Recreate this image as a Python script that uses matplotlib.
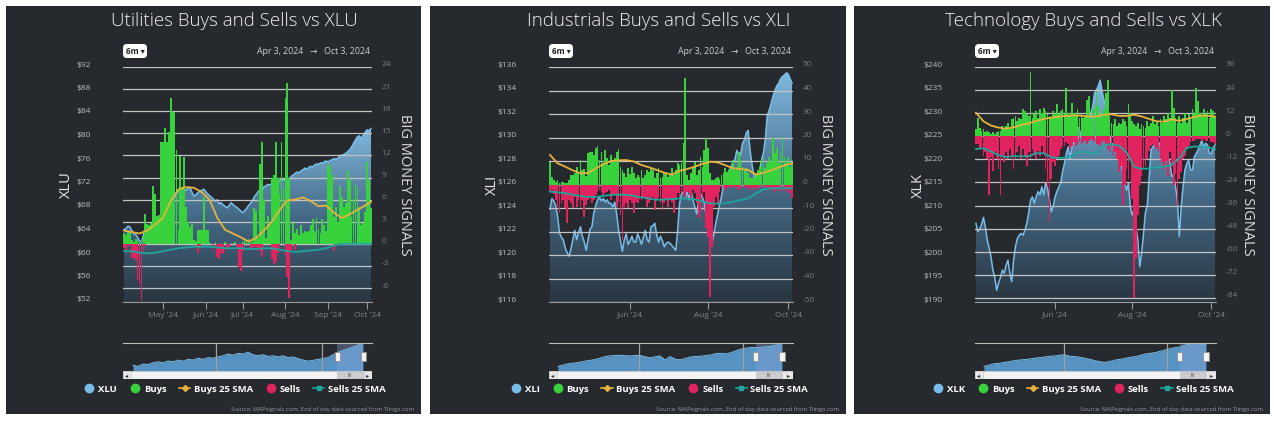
import numpy as np
import pandas as pd
import matplotlib
matplotlib.use("Agg")
import matplotlib.pyplot as plt
from matplotlib.patches import Rectangle, FancyBboxPatch, Polygon
from matplotlib.lines import Line2D
from matplotlib.colors import LinearSegmentedColormap
from matplotlib.transforms import ScaledTranslation, blended_transform_factory

plt.rcParams["font.family"] = ["Open Sans", "DejaVu Sans"]

# trading days shown in the 6m window
holidays = ["2024-05-27", "2024-06-19", "2024-07-04", "2024-09-02"]
dates = pd.bdate_range("2024-04-03", "2024-10-03")
dates = dates[~dates.isin(pd.to_datetime(holidays))]

# ---------------- Utilities / XLU ----------------
xlu_price = [
    64.3, 64.5, 64.9, 64.8, 64.2, 63.6, 63.5, 63.0, 62.4, 62.2,
    63.4, 64.7, 64.9, 65.0, 64.8, 65.3, 65.5, 65.9, 65.7, 66.0,
    66.3, 66.8, 67.2, 67.8, 68.6, 69.2, 69.7, 70.4, 70.9, 71.3,
    71.5, 71.2, 71.0, 71.4, 71.5, 70.6, 70.0, 70.3, 70.6, 70.9,
    71.0, 71.2, 70.8, 70.4, 70.1, 69.8, 69.5, 69.2, 69.4, 68.7,
    68.9, 68.5, 68.3, 68.0, 68.4, 68.9, 68.6, 68.3, 68.1, 67.8,
    67.5, 67.2, 67.5, 67.9, 68.4, 68.8, 69.2, 69.9, 70.3, 70.8,
    71.1, 71.0, 71.6, 71.8, 72.0, 71.9, 72.2, 72.4, 72.5, 72.3,
    72.6, 72.9, 72.7, 73.1, 73.3, 72.8, 73.4, 73.6, 73.9, 74.1,
    74.0, 74.3, 74.5, 74.8, 74.6, 74.9, 75.1, 75.0, 75.3, 75.5,
    75.4, 75.7, 75.6, 75.9, 76.0, 75.8, 76.1, 76.2, 76.4, 76.3,
    76.5, 76.9, 77.0, 77.1, 77.3, 77.6, 77.9, 78.4, 79.0, 79.6,
    80.1, 80.3, 79.8, 80.4, 80.9, 81.3, 81.2, 81.5,
]
xlu_buys = [
    1.5, 1.2, 1.8, 1.8, 0.5, 0.3, 0.6, 0.5, 0.3, 0.5,
    1.0, 4.0, 2.7, 2.5, 2.8, 7.8, 6.8, 3.8, 3.9, 13.8,
    13.8, 15.7, 13.8, 15.2, 19.8, 17.9, 17.9, 12.7, 1.9, 11.9,
    7.7, 11.8, 5.0, 2.9, 2.3, 2.7, 0.5, 0.4, 1.9, 1.9,
    1.9, 6.4, 1.9, 1.9, 0.3, 0.0, 0.0, 0.2, 0.0, 0.0,
    0.0, 0.0, 0.2, 0.0, 0.0, 0.0, 0.0, 0.2, 0.0, 0.0,
    0.0, 0.3, 0.5, 0.4, 0.6, 0.5, 0.3, 4.8, 4.5, 0.8,
    10.9, 13.8, 6.0, 0.8, 3.8, 2.6, 9.0, 9.3, 13.8, 8.9,
    6.7, 13.8, 7.5, 19.8, 21.8, 9.0, 0.5, 2.8, 1.4, 2.0,
    1.2, 2.5, 1.5, 1.8, 1.6, 1.8, 2.5, 3.4, 1.8, 3.6,
    2.0, 1.5, 3.4, 2.5, 1.8, 10.9, 10.4, 9.3, 3.6, 5.0,
    2.9, 7.9, 6.3, 5.0, 5.6, 10.0, 8.6, 3.6, 6.1, 8.1,
    7.7, 5.0, 2.5, 2.8, 4.3, 11.1, 8.6, 4.8,
]
xlu_sells = [
    -0.6, -0.8, -0.3, -0.2, -1.9, -1.9, -2.2, -4.9, -5.5, -7.8,
    -1.1, -0.3, 0, 0, 0, 0, 0, 0, 0, 0,
    0, 0, 0, 0, 0, 0, 0, 0, 0, 0,
    0, 0, 0, 0, 0, 0, 0, 0, -1.2, -0.4,
    0, 0, 0, 0, 0, 0, -0.9, 0, -1.8, -2.0,
    -1.2, -1.4, 0, -0.9, -0.5, 0, 0, 0, -0.6, -3.2,
    -3.7, -1.0, 0, 0, 0, -0.8, -0.9, -0.5, -0.4, -0.6,
    -1.0, -1.8, 0, 0, 0, 0, -2.0, -2.7, -2.5, -1.2,
    -0.3, 0, 0, -1.5, -4.5, -7.3, -1.0, 0, -0.8, 0,
    0, 0, 0, 0, 0, 0, 0, 0, 0, 0,
    0, 0, 0, 0, 0, 0, 0, 0, -1.0, 0,
    0, 0, 0, 0, 0, 0, 0, 0, 0, 0,
    0, 0, 0, 0, 0, 0, 0, 0,
]
# 25 SMA lines, read every 4th session plus the last one
xlu_buys_sma = [1.8, 1.6, 1.4, 1.8, 2.6, 3.5, 5.8, 7.4, 7.7, 7.6, 7.0, 6.0, 3.5, 1.9, 1.4, 0.9, 0.3,
                0.8, 1.8, 3.0, 4.6, 5.9, 6.0, 6.3, 5.8, 5.1, 5.2, 4.2, 3.5, 4.0, 4.6, 5.2, 5.7]
xlu_sells_sma = [-1.0, -1.0, -1.2, -1.3, -1.2, -1.0, -0.8, -0.6, -0.5, -0.4, -0.4, -0.4, -0.5, -0.6, -0.6,
                 -0.6, -0.7, -0.7, -0.6, -0.6, -0.8, -1.0, -1.1, -1.0, -0.9, -0.8, -0.6, -0.2, 0.0, 0.0,
                 0.0, 0.0, 0.0]
xlu_nav = [60.2, 59.1, 61.5, 60.9, 62.6, 63.6, 62.6, 64.3, 63.6, 65.3, 64.3, 66.0, 65.3, 67.1, 66.0, 67.7,
           67.1, 68.4, 69.5, 71.2, 70.1, 71.9, 71.2, 72.9, 70.5, 69.5, 70.5, 68.8, 69.5, 68.4, 69.5, 67.7,
           68.4, 66.7, 65.3, 64.3, 65.0, 66.0, 66.7, 67.7, 70.5, 72.9, 74.6, 76.3, 78.1, 79.8, 81.5]

# ---------------- Industrials / XLI ----------------
xli_price = [
    123.9, 124.8, 124.6, 124.2, 123.3, 121.9, 121.5, 121.3, 120.6, 120.2,
    119.9, 120.5, 121.3, 122.1, 121.3, 121.9, 122.4, 121.6, 121.1, 120.4,
    121.3, 122.2, 122.4, 123.6, 124.2, 124.7, 124.9, 124.6, 124.8, 124.5,
    124.7, 124.4, 124.4, 124.1, 124.5, 123.5, 122.1, 121.2, 120.3, 121.3,
    121.8, 120.9, 121.2, 121.6, 121.1, 121.1, 121.8, 121.4, 120.9, 121.5,
    122.1, 121.3, 121.1, 122.4, 122.5, 122.7, 121.7, 121.1, 121.6, 121.2,
    120.7, 121.0, 121.1, 121.0, 120.8, 120.6, 120.4, 122.1, 124.4, 125.2,
    125.4, 124.9, 125.4, 124.7, 125.5, 124.7, 124.1, 123.5, 124.7, 125.2,
    124.9, 124.4, 123.3, 122.1, 121.6, 121.0, 121.8, 122.7, 123.5, 124.3,
    125.0, 125.9, 126.4, 126.8, 127.2, 127.5, 127.9, 128.1, 128.9, 128.6,
    128.5, 129.5, 129.8, 130.4, 130.6, 128.9, 127.7, 126.8, 125.8, 126.4,
    127.2, 128.1, 128.7, 129.9, 131.9, 132.3, 132.9, 133.5, 134.0, 134.4,
    134.6, 135.0, 135.2, 135.3, 135.5, 135.4, 135.0, 134.6,
]
xli_buys = [
    9.7, 3.3, 1.9, 1.2, 1.9, 0.5, 1.2, 1.0, 0.5, 0.6,
    1.9, 4.1, 4.1, 4.8, 7.6, 5.5, 10.4, 6.2, 6.5, 3.5,
    13.3, 14.0, 14.0, 12.6, 15.4, 16.4, 10.4, 14.0, 9.0, 14.7,
    11.2, 8.3, 12.6, 9.7, 11.2, 14.0, 15.0, 7.6, 6.2, 4.8,
    3.4, 6.9, 4.5, 7.6, 4.8, 2.6, 4.1, 3.4, 6.2, 2.6,
    4.1, 6.2, 5.5, 7.6, 6.2, 2.6, 5.0, 6.9, 2.6, 3.0,
    5.5, 4.8, 3.4, 4.0, 6.9, 4.1, 6.2, 9.0, 8.3, 9.0,
    17.5, 45.2, 4.1, 2.0, 4.8, 7.6, 9.7, 4.1, 6.2, 11.9,
    7.6, 14.7, 19.7, 15.4, 4.8, 2.0, 2.0, 2.7, 3.4, 2.5,
    4.1, 4.8, 6.9, 5.5, 6.2, 6.9, 10.4, 6.2, 7.6, 13.8,
    10.4, 7.6, 6.2, 6.9, 4.8, 2.6, 2.6, 2.6, 4.8, 6.2,
    7.6, 10.4, 11.9, 6.9, 9.0, 11.9, 9.7, 19.7, 13.3, 15.4,
    9.0, 13.3, 20.4, 11.9, 9.0, 11.9, 7.6, 9.7,
]
xli_sells = [
    -3.0, -2.5, -4.0, -6.6, -9.4, -12.2, -7.8, -6.6, -10.0, -16.5,
    -6.6, -8.0, -10.0, -5.2, -9.4, -6.6, -9.4, -6.6, -13.7, -8.7,
    -6.6, -5.2, -8.0, -6.6, -4.5, -3.0, -2.5, -3.0, -4.5, -3.8,
    -3.0, -2.5, -6.6, -4.5, -4.5, -9.4, -7.3, -12.9, -23.6, -9.4,
    -8.0, -10.0, -6.6, -8.0, -12.2, -7.3, -8.0, -6.0, -6.6, -5.2,
    -5.9, -9.4, -8.0, -6.6, -5.2, -10.8, -6.6, -5.2, -8.0, -10.8,
    -8.0, -6.6, -9.4, -6.6, -7.3, -12.0, -6.6, -3.8, -5.2, -3.0,
    -4.5, -5.2, -3.0, -3.8, -6.6, -2.5, -3.8, -8.0, -14.4, -11.5,
    -5.2, -3.0, -18.6, -22.2, -48.0, -26.4, -9.4, -5.2, -8.0, -3.0,
    -1.6, -1.2, -2.3, -1.6, -1.2, -1.6, -0.8, -1.6, -1.2, -2.3,
    -1.6, -1.2, -0.8, -1.6, -1.2, -2.3, -1.6, -1.2, -2.3, -1.6,
    -0.8, -1.6, -1.2, -0.8, -1.6, -1.2, -2.3, -1.6, -3.0, -1.2,
    -2.3, -3.0, -1.6, -2.3, -3.0, -1.6, -3.8, -5.9,
]
xli_buys_sma = [12.6, 9.0, 7.6, 6.0, 4.8, 4.9, 6.9, 8.6, 10.0, 10.3, 10.4, 9.8, 8.3, 7.3, 6.2, 5.0, 4.2,
                5.8, 6.6, 7.6, 8.8, 9.7, 9.4, 8.2, 6.9, 6.6, 6.2, 4.2, 5.0, 6.0, 7.3, 8.4, 9.0]
xli_sells_sma = [-3.0, -3.3, -3.7, -4.3, -4.9, -5.3, -5.3, -4.9, -4.4, -4.3, -4.4, -4.9, -5.5, -6.0, -6.5,
                 -6.4, -6.2, -5.9, -6.0, -6.3, -7.2, -8.0, -8.2, -7.9, -7.4, -6.6, -5.9, -3.8, -2.0, -1.6,
                 -1.6, -1.6, -1.6]
xli_nav = [87.0, 89.8, 92.6, 94.0, 95.4, 97.5, 99.6, 101.0, 103.8, 107.3, 109.4, 110.1, 110.8, 110.1, 109.4,
           110.1, 110.8, 108.0, 105.2, 107.3, 109.4, 101.0, 108.0, 102.4, 101.0, 103.8, 107.3, 108.0, 108.7,
           110.1, 111.5, 114.3, 115.0, 113.6, 116.4, 120.6, 124.1, 126.2, 127.6, 126.9, 128.3, 129.0, 130.4,
           133.2, 136.0]

# ---------------- Technology / XLK ----------------
xlk_price = [
    206.7, 205.0, 205.5, 206.5, 208.0, 206.0, 203.2, 201.5, 199.6, 196.8,
    195.2, 192.5, 194.0, 195.2, 196.8, 196.1, 197.8, 198.9, 196.1, 194.3,
    198.9, 201.8, 203.5, 204.2, 204.6, 204.2, 205.3, 206.7, 208.9, 211.7,
    212.4, 211.0, 212.4, 213.5, 212.8, 214.5, 212.8, 215.3, 214.2, 212.0,
    209.2, 210.3, 212.4, 213.5, 214.5, 215.3, 217.7, 219.5, 221.6, 223.0,
    220.5, 223.0, 224.1, 225.2, 227.3, 226.6, 225.2, 224.5, 225.9, 227.0,
    228.7, 230.2, 231.6, 234.4, 235.1, 236.0, 237.2, 234.9, 233.0, 231.6,
    228.7, 225.2, 223.8, 223.4, 224.5, 223.0, 222.4, 220.2, 217.4, 215.3,
    213.8, 215.3, 210.3, 208.5, 209.6, 206.0, 203.2, 197.5, 200.4, 204.5,
    209.0, 210.5, 216.5, 222.4, 223.0, 223.8, 224.5, 223.4, 224.0, 223.0,
    222.4, 223.0, 220.9, 219.6, 216.7, 217.0, 214.5, 211.7, 203.9, 210.3,
    214.5, 218.1, 219.5, 220.2, 218.1, 218.1, 220.9, 221.6, 222.4, 223.4,
    224.5, 222.7, 223.8, 223.4, 221.6, 221.6, 222.7, 223.4,
]
xlk_buys = [
    3.7, 9.7, 4.5, 2.8, 3.7, 2.0, 2.8, 2.0, 1.1, 2.0,
    1.1, 2.0, 2.8, 2.8, 5.4, 3.7, 5.4, 7.1, 3.7, 8.8,
    9.7, 10.6, 8.0, 9.7, 8.8, 14.0, 13.1, 11.4, 10.6, 33.2,
    9.7, 11.4, 13.1, 9.7, 14.0, 12.3, 14.9, 13.1, 11.4, 10.6,
    9.7, 13.1, 11.4, 16.6, 11.4, 13.1, 14.0, 11.4, 25.2, 12.3,
    10.6, 17.4, 12.3, 10.6, 14.0, 9.7, 12.3, 9.7, 10.6, 19.1,
    20.9, 8.8, 14.0, 16.6, 23.5, 15.7, 9.7, 12.3, 14.0, 22.6,
    29.5, 10.6, 7.1, 6.3, 8.8, 5.4, 7.1, 6.3, 8.8, 8.0,
    5.4, 16.6, 12.3, 8.0, 6.3, 5.4, 7.1, 3.7, 6.3, 5.4,
    4.5, 8.0, 5.4, 7.1, 10.6, 6.3, 8.0, 5.4, 8.8, 7.1,
    10.6, 8.8, 12.3, 9.7, 24.3, 14.9, 9.7, 7.1, 10.6, 7.1,
    9.7, 12.3, 7.1, 11.4, 8.8, 14.0, 11.4, 25.2, 18.3, 12.3,
    10.6, 14.0, 11.4, 13.1, 9.7, 14.0, 13.1, 10.6,
]
xlk_sells = [
    -4.1, -4.0, -6.6, -5.8, -10.1, -8.4, -11.8, -30.7, -10.9, -17.8,
    -8.4, -11.8, -16.9, -30.7, -10.1, -13.5, -8.4, -11.8, -6.6, -10.1,
    -16.9, -11.8, -8.4, -4.9, -11.8, -6.6, -10.1, -15.2, -8.4, -11.8,
    -6.6, -9.2, -11.8, -7.5, -10.1, -4.9, -9.2, -16.9, -26.4, -44.5,
    -22.1, -13.5, -15.2, -11.8, -10.1, -6.6, -4.9, -4.9, -3.2, -4.1,
    -6.6, -4.9, -3.2, -4.9, -4.1, -3.2, -4.1, -3.2, -2.3, -4.1,
    -2.3, -1.5, -2.3, -3.2, -4.1, -4.1, -4.9, -3.2, -2.3, -4.1,
    -6.6, -8.4, -5.8, -10.1, -8.4, -11.8, -18.7, -15.2, -35.9, -25.5,
    -16.9, -22.1, -11.8, -32.4, -84.0, -63.4, -41.0, -25.5, -20.4, -16.9,
    -15.2, -11.8, -7.5, -4.9, -4.1, -5.8, -6.6, -8.4, -11.8, -13.5,
    -16.9, -12.7, -20.4, -8.4, -15.2, -25.5, -19.5, -35.9, -22.1, -18.7,
    -11.8, -10.1, -6.6, -4.9, -3.2, -2.3, -2.3, -1.5, -1.5, -1.5,
    -2.3, -1.5, -2.3, -2.3, -1.5, -3.2, -3.2, -4.1,
]
xlk_buys_sma = [12.3, 7.8, 5.6, 4.5, 4.0, 4.6, 5.8, 6.7, 7.9, 9.0, 9.7, 10.2, 10.6, 10.9, 10.7, 10.3, 10.3,
                11.2, 11.4, 10.6, 10.6, 11.2, 10.3, 9.0, 7.8, 7.6, 8.8, 8.0, 9.0, 10.1, 10.8, 10.6, 10.2]
xlk_sells_sma = [-6.6, -6.2, -7.9, -9.8, -10.8, -10.3, -10.4, -10.4, -8.8, -8.8, -10.9, -11.3, -11.0, -9.6,
                 -8.0, -8.4, -9.0, -4.5, -4.1, -4.9, -8.4, -15.8, -16.9, -16.7, -16.2, -15.8, -14.9, -11.5,
                 -6.0, -5.3, -5.5, -5.9, -6.6]
xlk_nav = [116.3, 122.7, 129.3, 130.9, 135.8, 139.0, 143.9, 147.1, 148.8, 152.0, 155.3, 158.5, 161.8, 165.0,
           166.6, 169.9, 173.1, 165.0, 163.4, 160.1, 155.3, 150.4, 143.9, 139.0, 135.8, 140.6, 147.1, 150.4,
           155.3, 160.1, 163.4, 169.9, 176.4, 179.6, 182.9, 189.4, 195.9, 202.4, 207.3, 210.5, 220.3, 223.5,
           226.8, 223.5, 221.9]

# ---------------- styling ----------------
W, H = 1274, 425
BG = "#26292d"
GRID = "#c4c4c4"
PRICE = "#79bde9"
GREEN = "#38d23c"
RED = "#e1245f"
YELLOW = "#e6b33c"
TEAL = "#1fa59c"
NAV_FILL = "#5d9fd3"
AREA_CMAP = LinearSegmentedColormap.from_list("area", ["#2a3641", "#456b88", "#7fb8df"])
SOURCE = "Source: MAPsignals.com, End of day data sourced from Tiingo.com"

panels = [
    dict(ticker="XLU", title="Utilities Buys and Sells vs XLU", price=xlu_price, buys=xlu_buys,
         sells=xlu_sells, bsma=xlu_buys_sma, ssma=xlu_sells_sma, nav=xlu_nav,
         box=(6, 421), plot=(123, 372), series=(133, 363), nav_marks=(16.6, 37.8),
         left_lim=(52, 92), left_ticks=range(52, 93, 4), right_lim=(-7.9, 24),
         right_ticks=range(-6, 25, 3), months=[5, 6, 7, 8, 9, 10]),
    dict(ticker="XLI", title="Industrials Buys and Sells vs XLI", price=xli_price, buys=xli_buys,
         sells=xli_sells, bsma=xli_buys_sma, ssma=xli_sells_sma, nav=xli_nav,
         box=(430, 846), plot=(549, 793), series=(558, 782), nav_marks=(15.9, 36.3),
         left_lim=(116, 136), left_ticks=range(116, 137, 2), right_lim=(-50, 50),
         right_ticks=range(-50, 51, 10), months=[6, 8, 10]),
    dict(ticker="XLK", title="Technology Buys and Sells vs XLK", price=xlk_price, buys=xlk_buys,
         sells=xlk_sells, bsma=xlk_buys_sma, ssma=xlk_sells_sma, nav=xlk_nav,
         box=(854, 1270), plot=(975, 1216), series=(984, 1206), nav_marks=(15.8, 36.2),
         left_lim=(190, 240), left_ticks=range(190, 241, 5), right_lim=(-86.1, 36),
         right_ticks=range(-84, 37, 12), months=[6, 8, 10]),
]
nav_window = 5.2  # navigator points covered by the 6m selection


def fbox(x0, y0, x1, y1):
    return [x0 / W, 1 - y1 / H, (x1 - x0) / W, (y1 - y0) / H]


fig = plt.figure(figsize=(W / 100, H / 100), dpi=100, facecolor="white")
lift = ScaledTranslation(0, 3 / 100, fig.dpi_scale_trans)


def draw_panel(p):
    bx0, bx1 = p["box"]
    x0, x1 = p["plot"]
    cx = (bx0 + bx1) / 2 + 21
    fig.add_artist(Rectangle((bx0 / W, 1 - 414 / H), (bx1 - bx0) / W, 408 / H,
                             transform=fig.transFigure, facecolor=BG, edgecolor="none", zorder=0))

    n = len(dates)
    x = np.arange(n)
    price = np.array(p["price"])
    lo, hi = p["left_lim"]

    ax = fig.add_axes(fbox(x0, 67, x1, 302))
    ax.set_facecolor(BG)
    verts = np.column_stack([np.r_[x[0], x, x[-1]], np.r_[lo, price, lo]])
    poly = Polygon(verts, closed=True, facecolor="none", edgecolor="none")
    ax.add_patch(poly)
    grad = np.linspace(0, 1, 256).reshape(-1, 1)
    im = ax.imshow(grad, extent=[x[0], x[-1], lo, price.max()], origin="lower",
                   aspect="auto", cmap=AREA_CMAP, zorder=1)
    im.set_clip_path(poly)
    ax.plot(x, price, color=PRICE, lw=1.1, zorder=2)
    ax.set_xlim(-0.5, n - 0.5)
    ax.set_ylim(lo, hi)

    ax.set_yticks(list(p["left_ticks"]))
    ax.set_yticklabels([f"${v}" for v in p["left_ticks"]])
    ax.tick_params(axis="y", length=0, pad=23, labelsize=6, labelcolor="#bdbdbd")
    month_idx = [int(np.argmax(dates.month == m)) for m in p["months"]]
    ax.set_xticks(month_idx)
    ax.set_xticklabels([dates[i].strftime("%b '%y") for i in month_idx])
    ax.tick_params(axis="x", length=5, width=0.8, color="#9a9a9a", labelsize=6,
                   labelcolor="#858585", pad=2)
    for s in ax.spines.values():
        s.set_visible(False)
    ax.spines["bottom"].set_visible(True)
    ax.spines["bottom"].set_color("#9a9a9a")

    ax2 = ax.twinx()
    ax2.set_ylim(*p["right_lim"])
    ax2.set_yticks(list(p["right_ticks"]))
    ax2.set_yticklabels([str(v) for v in p["right_ticks"]])
    ax2.set_axisbelow(True)
    ax2.grid(axis="y", color=GRID, lw=0.9)
    ax2.tick_params(axis="y", length=0, pad=7, labelsize=6, labelcolor="#7c7c7c")
    for s in ax2.spines.values():
        s.set_visible(False)
    ax2.bar(x, p["buys"], width=0.92, color=GREEN, linewidth=0, zorder=2)
    ax2.bar(x, p["sells"], width=0.92, color=RED, linewidth=0, zorder=2)
    sma_idx = list(range(0, n, 4)) + [n - 1]
    ax2.plot(sma_idx, p["bsma"], color=YELLOW, lw=1.3, zorder=3)
    ax2.plot(sma_idx, p["ssma"], color=TEAL, lw=1.3, zorder=3)
    for lab in ax.get_yticklabels() + ax2.get_yticklabels():
        lab.set_transform(lab.get_transform() + lift)

    # header
    fig.text(cx / W, 1 - 21 / H, p["title"], ha="center", va="center", fontsize=13.5,
             color="#f0f0f0", weight="light")
    btn = FancyBboxPatch((x0 / W, 1 - 58 / H), 24 / W, 14 / H, transform=fig.transFigure,
                         boxstyle="round,pad=0,rounding_size=0.003", mutation_aspect=W / H,
                         facecolor="white", edgecolor="none")
    fig.add_artist(btn)
    fig.text((x0 + 12) / W, 1 - 51 / H, "6m ▾", ha="center", va="center", fontsize=5.8,
             weight="bold", color="#222222")
    fig.text((x1 - 2) / W, 1 - 51 / H, "Apr 3, 2024   →   Oct 3, 2024", ha="right", va="center",
             fontsize=6.3, color="#cfcfcf")
    fig.text((x0 - 57) / W, 1 - 185 / H, p["ticker"], rotation=90, ha="center", va="center",
             fontsize=10.5, color="#e6e6e6")
    fig.text((x1 + 32) / W, 1 - 185 / H, "BIG MONEY SIGNALS", rotation=270, ha="center",
             va="center", fontsize=10.5, color="#dddddd")

    # navigator
    nav = np.array(p["nav"])
    m = len(nav)
    xn = np.arange(m)
    sx0, sx1 = p["series"]
    step = (sx1 - sx0) / (m - 1)
    nax = fig.add_axes(fbox(x0, 343, x1, 371))
    nax.set_facecolor("none")
    nax.set_xlim(-(sx0 - x0) / step, (m - 1) + (x1 - sx1) / step)
    rng = nav.max() - nav.min()
    nlo = nav.min() - 0.2 * rng
    nax.set_ylim(nlo, nav.max() + 0.02 * rng)
    nax.fill_between(xn, nav, nlo, color=NAV_FILL, lw=0, alpha=0.9)
    nax.plot(xn, nav, color=PRICE, lw=0.7)
    for v in p["nav_marks"]:
        nax.axvline(v, color="#a0a0a0", lw=0.9)
    sel0 = m - 1 - nav_window
    nax.axvspan(sel0, m - 1, color=(0.55, 0.65, 0.87), alpha=0.35, lw=0)
    nax.set_xticks([])
    nax.set_yticks([])
    for s in nax.spines.values():
        s.set_visible(False)
    nax.spines["top"].set_visible(True)
    nax.spines["top"].set_color("#bdbdbd")
    blend = blended_transform_factory(nax.transData, nax.transAxes)
    for xe in (sel0, m - 1):
        nax.add_patch(Rectangle((xe - 0.5, 0.36), 1.0, 0.32, transform=blend, facecolor="#f2f2f2",
                                edgecolor="#8f8f8f", lw=0.6, zorder=5, clip_on=False))

    # scrollbar
    sax = fig.add_axes(fbox(x0, 371, x1, 379))
    sax.set_xlim(nax.get_xlim())
    sax.set_ylim(0, 1)
    sax.axis("off")
    sax.add_patch(Rectangle((0, 0), 1, 1, transform=sax.transAxes, facecolor="#f2f2f2",
                            edgecolor="#d6d6d6", lw=0.5))
    bw = 8 / (x1 - x0)
    for bxs, glyph in ((0, "◂"), (1 - bw, "▸")):
        sax.add_patch(Rectangle((bxs, 0), bw, 1, transform=sax.transAxes, facecolor="#e6e6e6",
                                edgecolor="#cccccc", lw=0.5))
        sax.text(bxs + bw / 2, 0.45, glyph, transform=sax.transAxes, ha="center", va="center",
                 fontsize=4.5, color="#333333")
    sax.add_patch(Rectangle((sel0, 0.08), nav_window, 0.84, facecolor="#cdcdcd",
                            edgecolor="#bbbbbb", lw=0.5))
    sax.text(sel0 + nav_window / 2, 0.47, "III", ha="center", va="center", fontsize=3.5,
             color="#333333")

    # legend
    handles = [
        Line2D([], [], ls="none", marker="o", ms=7, mfc=PRICE, mec="none"),
        Line2D([], [], ls="none", marker="o", ms=7, mfc=GREEN, mec="none"),
        Line2D([], [], color=YELLOW, lw=1.2, marker="D", ms=3),
        Line2D([], [], ls="none", marker="o", ms=7, mfc=RED, mec="none"),
        Line2D([], [], color=TEAL, lw=1.2, marker="s", ms=3),
    ]
    labels = [p["ticker"], "Buys", "Buys 25 SMA", "Sells", "Sells 25 SMA"]
    fig.legend(handles, labels, loc="center", bbox_to_anchor=(cx / W, 1 - 389 / H), ncol=5,
               frameon=False, prop={"weight": "bold", "size": 6.8}, labelcolor="white",
               handlelength=1.2, handletextpad=0.35, columnspacing=1.3, borderaxespad=0,
               borderpad=0)
    fig.text((bx1 - 7) / W, 1 - 409 / H, SOURCE, ha="right", va="center", fontsize=4.2,
             color="#9a9a9a")


for p in panels:
    draw_panel(p)

fig.savefig("out.png", dpi=100, facecolor="white")
